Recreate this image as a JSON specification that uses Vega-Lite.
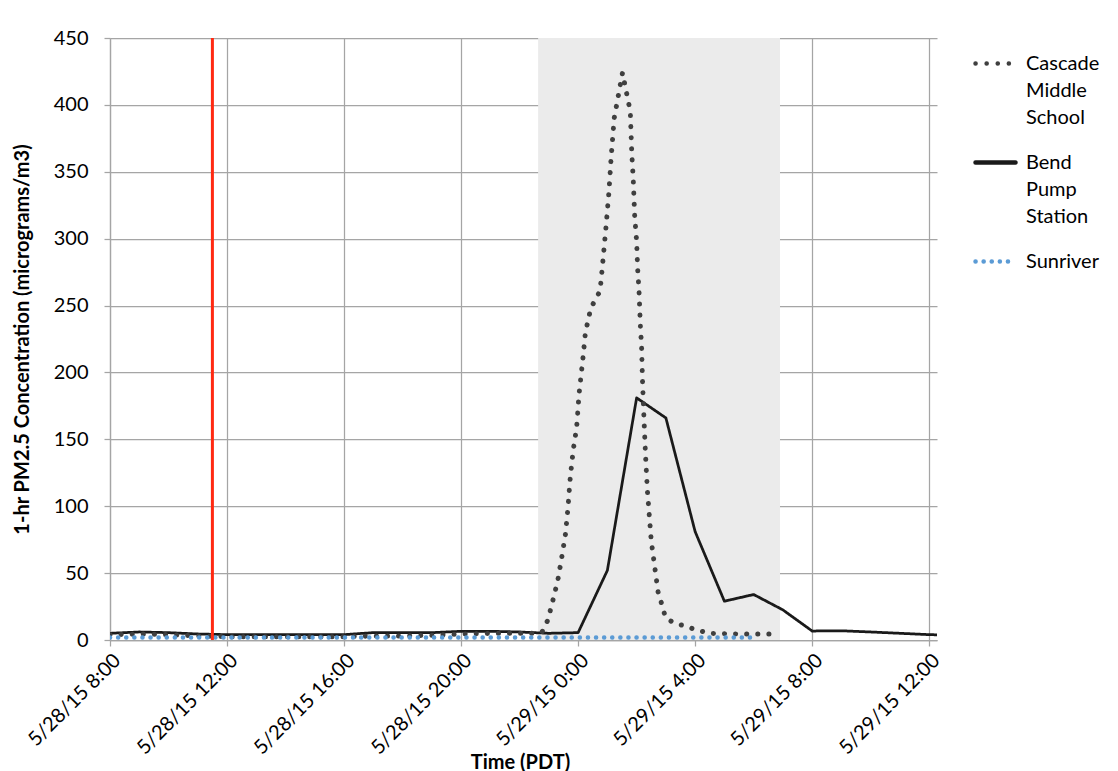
{
  "$schema": "https://vega.github.io/schema/vega-lite/v6.json",
  "width": 827,
  "height": 602,
  "autosize": {"type": "none"},
  "padding": {"left": 110, "top": 38, "right": 181, "bottom": 131},
  "background": "white",
  "config": {
    "view": {"stroke": null},
    "font": "Lato",
    "axis": {
      "domainColor": "#a5a5a5", "domainWidth": 1.25,
      "gridColor": "#a5a5a5", "gridWidth": 1.25,
      "tickColor": "#a5a5a5", "tickWidth": 1.25, "tickSize": 6,
      "labelFont": "Lato", "labelFontSize": 20, "labelColor": "#000000",
      "titleFont": "Lato", "titleFontSize": 20, "titleFontWeight": "bold", "titleColor": "#000000",
      "labelFlush": false, "labelOverlap": false, "labelBound": false,
      "zindex": 1
    },
    "legend": {
      "labelFont": "Lato", "labelFontSize": 20, "labelColor": "#000000",
      "labelLimit": 400, "labelOffset": 8, "padding": 0, "symbolStrokeWidth": 4.5
    }
  },
  "datasets": {
    "pm": [
      {"site": "Cascade Middle School", "time": "2015-05-28T08:00", "pm25": 4},
      {"site": "Cascade Middle School", "time": "2015-05-28T09:00", "pm25": 4.5},
      {"site": "Cascade Middle School", "time": "2015-05-28T10:00", "pm25": 4},
      {"site": "Cascade Middle School", "time": "2015-05-28T11:00", "pm25": 3},
      {"site": "Cascade Middle School", "time": "2015-05-28T12:00", "pm25": 2.5},
      {"site": "Cascade Middle School", "time": "2015-05-28T13:00", "pm25": 2.5},
      {"site": "Cascade Middle School", "time": "2015-05-28T14:00", "pm25": 2.5},
      {"site": "Cascade Middle School", "time": "2015-05-28T15:00", "pm25": 2.5},
      {"site": "Cascade Middle School", "time": "2015-05-28T16:00", "pm25": 2.5},
      {"site": "Cascade Middle School", "time": "2015-05-28T17:00", "pm25": 3},
      {"site": "Cascade Middle School", "time": "2015-05-28T18:00", "pm25": 3},
      {"site": "Cascade Middle School", "time": "2015-05-28T19:00", "pm25": 3.5},
      {"site": "Cascade Middle School", "time": "2015-05-28T20:00", "pm25": 4.5},
      {"site": "Cascade Middle School", "time": "2015-05-28T21:00", "pm25": 5},
      {"site": "Cascade Middle School", "time": "2015-05-28T22:00", "pm25": 5},
      {"site": "Cascade Middle School", "time": "2015-05-28T22:30", "pm25": 5},
      {"site": "Cascade Middle School", "time": "2015-05-28T22:46", "pm25": 6},
      {"site": "Cascade Middle School", "time": "2015-05-28T22:58", "pm25": 15},
      {"site": "Cascade Middle School", "time": "2015-05-28T23:05", "pm25": 25},
      {"site": "Cascade Middle School", "time": "2015-05-28T23:12", "pm25": 35},
      {"site": "Cascade Middle School", "time": "2015-05-28T23:19", "pm25": 46},
      {"site": "Cascade Middle School", "time": "2015-05-28T23:27", "pm25": 63},
      {"site": "Cascade Middle School", "time": "2015-05-28T23:34", "pm25": 79},
      {"site": "Cascade Middle School", "time": "2015-05-28T23:39", "pm25": 98},
      {"site": "Cascade Middle School", "time": "2015-05-28T23:44", "pm25": 122},
      {"site": "Cascade Middle School", "time": "2015-05-28T23:50", "pm25": 142},
      {"site": "Cascade Middle School", "time": "2015-05-28T23:57", "pm25": 159},
      {"site": "Cascade Middle School", "time": "2015-05-29T00:02", "pm25": 184},
      {"site": "Cascade Middle School", "time": "2015-05-29T00:10", "pm25": 211},
      {"site": "Cascade Middle School", "time": "2015-05-29T00:15", "pm25": 230},
      {"site": "Cascade Middle School", "time": "2015-05-29T00:26", "pm25": 248},
      {"site": "Cascade Middle School", "time": "2015-05-29T00:45", "pm25": 261},
      {"site": "Cascade Middle School", "time": "2015-05-29T00:50", "pm25": 280},
      {"site": "Cascade Middle School", "time": "2015-05-29T00:57", "pm25": 308},
      {"site": "Cascade Middle School", "time": "2015-05-29T01:03", "pm25": 334},
      {"site": "Cascade Middle School", "time": "2015-05-29T01:08", "pm25": 362},
      {"site": "Cascade Middle School", "time": "2015-05-29T01:14", "pm25": 390},
      {"site": "Cascade Middle School", "time": "2015-05-29T01:19", "pm25": 400},
      {"site": "Cascade Middle School", "time": "2015-05-29T01:24", "pm25": 410},
      {"site": "Cascade Middle School", "time": "2015-05-29T01:28", "pm25": 418},
      {"site": "Cascade Middle School", "time": "2015-05-29T01:31", "pm25": 424},
      {"site": "Cascade Middle School", "time": "2015-05-29T01:36", "pm25": 415},
      {"site": "Cascade Middle School", "time": "2015-05-29T01:41", "pm25": 406},
      {"site": "Cascade Middle School", "time": "2015-05-29T01:47", "pm25": 395},
      {"site": "Cascade Middle School", "time": "2015-05-29T01:50", "pm25": 364},
      {"site": "Cascade Middle School", "time": "2015-05-29T01:53", "pm25": 345},
      {"site": "Cascade Middle School", "time": "2015-05-29T01:56", "pm25": 317},
      {"site": "Cascade Middle School", "time": "2015-05-29T02:00", "pm25": 298},
      {"site": "Cascade Middle School", "time": "2015-05-29T02:02", "pm25": 278},
      {"site": "Cascade Middle School", "time": "2015-05-29T02:05", "pm25": 260},
      {"site": "Cascade Middle School", "time": "2015-05-29T02:08", "pm25": 232},
      {"site": "Cascade Middle School", "time": "2015-05-29T02:10", "pm25": 221},
      {"site": "Cascade Middle School", "time": "2015-05-29T02:12", "pm25": 194},
      {"site": "Cascade Middle School", "time": "2015-05-29T02:15", "pm25": 166},
      {"site": "Cascade Middle School", "time": "2015-05-29T02:18", "pm25": 140},
      {"site": "Cascade Middle School", "time": "2015-05-29T02:22", "pm25": 112},
      {"site": "Cascade Middle School", "time": "2015-05-29T02:26", "pm25": 93},
      {"site": "Cascade Middle School", "time": "2015-05-29T02:30", "pm25": 74},
      {"site": "Cascade Middle School", "time": "2015-05-29T02:37", "pm25": 55},
      {"site": "Cascade Middle School", "time": "2015-05-29T02:44", "pm25": 36},
      {"site": "Cascade Middle School", "time": "2015-05-29T02:53", "pm25": 25},
      {"site": "Cascade Middle School", "time": "2015-05-29T02:59", "pm25": 17},
      {"site": "Cascade Middle School", "time": "2015-05-29T03:15", "pm25": 13},
      {"site": "Cascade Middle School", "time": "2015-05-29T03:43", "pm25": 10},
      {"site": "Cascade Middle School", "time": "2015-05-29T04:03", "pm25": 7.5},
      {"site": "Cascade Middle School", "time": "2015-05-29T04:30", "pm25": 5},
      {"site": "Cascade Middle School", "time": "2015-05-29T05:30", "pm25": 4.5},
      {"site": "Cascade Middle School", "time": "2015-05-29T06:47", "pm25": 4.5},

      {"site": "Bend Pump Station", "time": "2015-05-28T08:00", "pm25": 5},
      {"site": "Bend Pump Station", "time": "2015-05-28T09:00", "pm25": 6},
      {"site": "Bend Pump Station", "time": "2015-05-28T10:00", "pm25": 5.5},
      {"site": "Bend Pump Station", "time": "2015-05-28T11:00", "pm25": 4.5},
      {"site": "Bend Pump Station", "time": "2015-05-28T12:00", "pm25": 4},
      {"site": "Bend Pump Station", "time": "2015-05-28T13:00", "pm25": 4},
      {"site": "Bend Pump Station", "time": "2015-05-28T14:00", "pm25": 4},
      {"site": "Bend Pump Station", "time": "2015-05-28T15:00", "pm25": 4},
      {"site": "Bend Pump Station", "time": "2015-05-28T16:00", "pm25": 4},
      {"site": "Bend Pump Station", "time": "2015-05-28T17:00", "pm25": 5.5},
      {"site": "Bend Pump Station", "time": "2015-05-28T18:00", "pm25": 5.5},
      {"site": "Bend Pump Station", "time": "2015-05-28T19:00", "pm25": 5.5},
      {"site": "Bend Pump Station", "time": "2015-05-28T20:00", "pm25": 6.5},
      {"site": "Bend Pump Station", "time": "2015-05-28T21:00", "pm25": 6.5},
      {"site": "Bend Pump Station", "time": "2015-05-28T22:00", "pm25": 6},
      {"site": "Bend Pump Station", "time": "2015-05-28T23:00", "pm25": 5},
      {"site": "Bend Pump Station", "time": "2015-05-29T00:00", "pm25": 5.5},
      {"site": "Bend Pump Station", "time": "2015-05-29T01:00", "pm25": 52},
      {"site": "Bend Pump Station", "time": "2015-05-29T02:00", "pm25": 181},
      {"site": "Bend Pump Station", "time": "2015-05-29T03:00", "pm25": 166},
      {"site": "Bend Pump Station", "time": "2015-05-29T04:00", "pm25": 81},
      {"site": "Bend Pump Station", "time": "2015-05-29T05:00", "pm25": 29},
      {"site": "Bend Pump Station", "time": "2015-05-29T06:00", "pm25": 34},
      {"site": "Bend Pump Station", "time": "2015-05-29T07:00", "pm25": 22.5},
      {"site": "Bend Pump Station", "time": "2015-05-29T08:00", "pm25": 6.7},
      {"site": "Bend Pump Station", "time": "2015-05-29T09:00", "pm25": 6.9},
      {"site": "Bend Pump Station", "time": "2015-05-29T10:00", "pm25": 6},
      {"site": "Bend Pump Station", "time": "2015-05-29T11:00", "pm25": 5},
      {"site": "Bend Pump Station", "time": "2015-05-29T12:00", "pm25": 4},
      {"site": "Bend Pump Station", "time": "2015-05-29T13:00", "pm25": 3.5},

      {"site": "Sunriver", "time": "2015-05-28T08:00", "pm25": 1.8},
      {"site": "Sunriver", "time": "2015-05-28T09:00", "pm25": 1.8},
      {"site": "Sunriver", "time": "2015-05-28T10:00", "pm25": 1.8},
      {"site": "Sunriver", "time": "2015-05-28T11:00", "pm25": 1.8},
      {"site": "Sunriver", "time": "2015-05-28T12:00", "pm25": 1.8},
      {"site": "Sunriver", "time": "2015-05-28T13:00", "pm25": 1.8},
      {"site": "Sunriver", "time": "2015-05-28T14:00", "pm25": 1.8},
      {"site": "Sunriver", "time": "2015-05-28T15:00", "pm25": 1.8},
      {"site": "Sunriver", "time": "2015-05-28T16:00", "pm25": 1.8},
      {"site": "Sunriver", "time": "2015-05-28T17:00", "pm25": 1.8},
      {"site": "Sunriver", "time": "2015-05-28T18:00", "pm25": 1.8},
      {"site": "Sunriver", "time": "2015-05-28T19:00", "pm25": 1.8},
      {"site": "Sunriver", "time": "2015-05-28T20:00", "pm25": 1.8},
      {"site": "Sunriver", "time": "2015-05-28T21:00", "pm25": 1.8},
      {"site": "Sunriver", "time": "2015-05-28T22:00", "pm25": 1.8},
      {"site": "Sunriver", "time": "2015-05-28T23:00", "pm25": 1.8},
      {"site": "Sunriver", "time": "2015-05-29T00:00", "pm25": 1.8},
      {"site": "Sunriver", "time": "2015-05-29T01:00", "pm25": 1.8},
      {"site": "Sunriver", "time": "2015-05-29T02:00", "pm25": 1.8},
      {"site": "Sunriver", "time": "2015-05-29T03:00", "pm25": 1.8},
      {"site": "Sunriver", "time": "2015-05-29T04:00", "pm25": 1.8},
      {"site": "Sunriver", "time": "2015-05-29T05:00", "pm25": 1.8},
      {"site": "Sunriver", "time": "2015-05-29T06:00", "pm25": 1.8}
    ],
    "shade": [
      {"time": "2015-05-28T22:38", "end": "2015-05-29T06:54"}
    ],
    "event": [
      {"time": "2015-05-28T11:30"}
    ]
  },
  "layer": [
    {
      "data": {"name": "shade"},
      "mark": {"type": "rect", "color": "#ebebeb"},
      "encoding": {
        "x": {
          "field": "time", "type": "temporal", "title": "Time (PDT)",
          "scale": {"domain": [{"year": 2015, "month": 5, "date": 28, "hours": 8}, {"year": 2015, "month": 5, "date": 29, "hours": 12, "minutes": 16}], "nice": false},
          "axis": {
            "format": "%-m/%d/%y %-H:%M", "labelAngle": -45, "labelPadding": 4,
            "values": [
              {"year": 2015, "month": 5, "date": 28, "hours": 8},
              {"year": 2015, "month": 5, "date": 28, "hours": 12},
              {"year": 2015, "month": 5, "date": 28, "hours": 16},
              {"year": 2015, "month": 5, "date": 28, "hours": 20},
              {"year": 2015, "month": 5, "date": 29, "hours": 0},
              {"year": 2015, "month": 5, "date": 29, "hours": 4},
              {"year": 2015, "month": 5, "date": 29, "hours": 8},
              {"year": 2015, "month": 5, "date": 29, "hours": 12}
            ],
            "titleX": 410, "titleY": 122, "titleBaseline": "middle", "titleAlign": "center"
          }
        },
        "x2": {"field": "end"}
      }
    },
    {
      "data": {"name": "pm"},
      "transform": [{"filter": "datum.site === 'Bend Pump Station'"}],
      "mark": {"type": "line", "strokeCap": "round", "strokeJoin": "round", "clip": true, "strokeWidth": 2.75},
      "encoding": {
        "x": {"field": "time", "type": "temporal", "title": "Time (PDT)"},
        "y": {
          "field": "pm25", "type": "quantitative", "title": "1-hr PM2.5 Concentration (micrograms/m3)",
          "scale": {"domain": [0, 450], "nice": false},
          "axis": {"values": [0, 50, 100, 150, 200, 250, 300, 350, 400, 450], "labelPadding": 16, "titleX": -88, "titleY": 301, "titleBaseline": "middle", "titleAlign": "center"}
        },
        "color": {
          "field": "site", "type": "nominal",
          "scale": {"domain": ["Cascade Middle School", "Bend Pump Station", "Sunriver"], "range": ["#3f3f3f", "#1a1a1a", "#5b9bd5"]},
          "legend": {
            "title": null, "orient": "none", "legendX": 863, "legendY": 3,
            "symbolType": "stroke", "symbolSize": 1600, "rowPadding": 12,
            "labelExpr": "split(datum.label, ' ')", "labelBaseline": "middle",
            "encoding": {
              "symbols": {"strokeCap": {"value": "round"}},
              "labels": {"lineHeight": {"value": 27}}
            }
          }
        },
        "strokeDash": {
          "field": "site", "type": "nominal",
          "scale": {"domain": ["Cascade Middle School", "Bend Pump Station", "Sunriver"], "range": [[0.1, 11], [1, 0], [0.1, 8]]}
        }
      }
    },
    {
      "data": {"name": "pm"},
      "transform": [{"filter": "datum.site === 'Cascade Middle School'"}],
      "mark": {"type": "line", "strokeCap": "round", "strokeJoin": "round", "clip": true, "strokeWidth": 5},
      "encoding": {
        "x": {"field": "time", "type": "temporal", "title": "Time (PDT)"},
        "y": {"field": "pm25", "type": "quantitative", "title": "1-hr PM2.5 Concentration (micrograms/m3)"},
        "color": {"field": "site", "type": "nominal"},
        "strokeDash": {"field": "site", "type": "nominal"}
      }
    },
    {
      "data": {"name": "pm"},
      "transform": [{"filter": "datum.site === 'Sunriver'"}],
      "mark": {"type": "line", "strokeCap": "round", "strokeJoin": "round", "clip": true, "strokeWidth": 4.5},
      "encoding": {
        "x": {"field": "time", "type": "temporal", "title": "Time (PDT)"},
        "y": {"field": "pm25", "type": "quantitative", "title": "1-hr PM2.5 Concentration (micrograms/m3)"},
        "color": {"field": "site", "type": "nominal"},
        "strokeDash": {"field": "site", "type": "nominal"}
      }
    },
    {
      "data": {"name": "event"},
      "mark": {"type": "rule", "color": "#ff2a12", "strokeWidth": 3},
      "encoding": {
        "x": {"field": "time", "type": "temporal", "title": "Time (PDT)"}
      }
    }
  ]
}
